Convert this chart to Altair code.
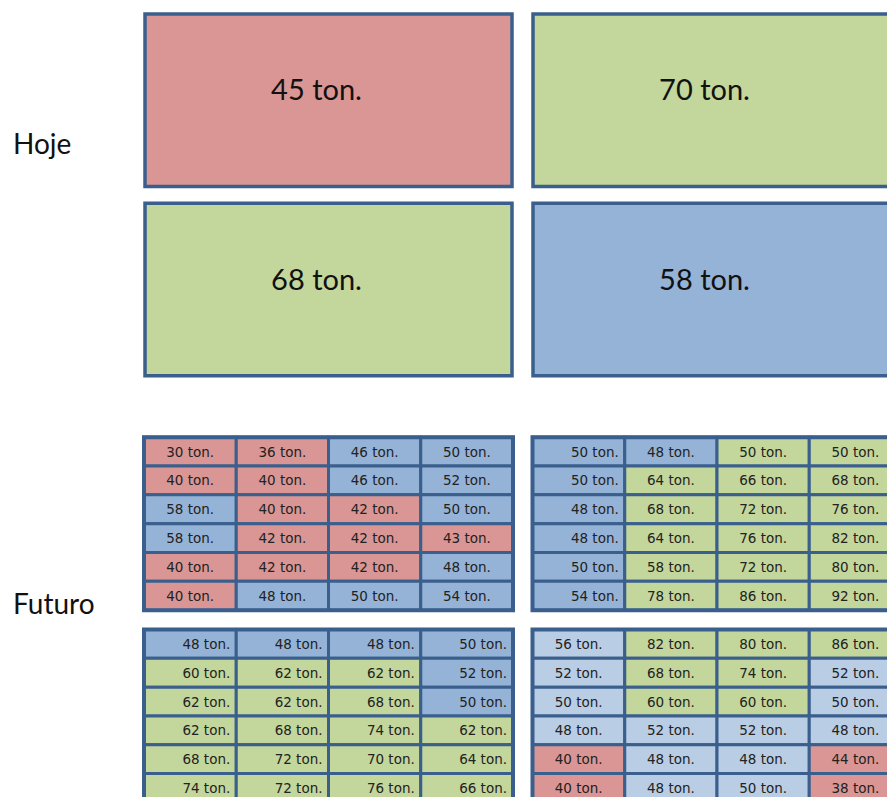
import altair as alt
import pandas as pd

# ---------------- data ----------------
row_labels = ["Hoje", "Futuro"]

hoje_values = [[45, 70], [68, 58]]
hoje_colors = [["r", "g"], ["g", "b"]]

tl_values = [[30, 36, 46, 50], [40, 40, 46, 52], [58, 40, 42, 50],
             [58, 42, 42, 43], [40, 42, 42, 48], [40, 48, 50, 54]]
tl_colors = [["r", "r", "b", "b"], ["r", "r", "b", "b"], ["b", "r", "r", "b"],
             ["b", "r", "r", "r"], ["r", "r", "r", "b"], ["r", "b", "b", "b"]]

tr_values = [[50, 48, 50, 50], [50, 64, 66, 68], [48, 68, 72, 76],
             [48, 64, 76, 82], [50, 58, 72, 80], [54, 78, 86, 92]]
tr_colors = [["b", "b", "g", "g"], ["b", "g", "g", "g"], ["b", "g", "g", "g"],
             ["b", "g", "g", "g"], ["b", "g", "g", "g"], ["b", "g", "g", "g"]]

bl_values = [[48, 48, 48, 50], [60, 62, 62, 52], [62, 62, 68, 50],
             [62, 68, 74, 62], [68, 72, 70, 64], [74, 72, 76, 66]]
bl_colors = [["b", "b", "b", "b"], ["g", "g", "g", "b"], ["g", "g", "g", "b"],
             ["g", "g", "g", "g"], ["g", "g", "g", "g"], ["g", "g", "g", "g"]]

br_values = [[56, 82, 80, 86], [52, 68, 74, 52], [50, 60, 60, 50],
             [48, 52, 52, 48], [40, 48, 48, 44], [40, 48, 50, 38]]
br_colors = [["l", "g", "g", "g"], ["l", "g", "g", "l"], ["l", "g", "g", "l"],
             ["l", "l", "l", "l"], ["r", "l", "l", "r"], ["r", "l", "l", "r"]]

# ---------------- styles / layout ----------------
COLOR_DOMAIN = ["r", "g", "b", "l"]
COLOR_RANGE = ["#D99694", "#C3D69B", "#95B3D7", "#B9CDE5"]
BORDER = "#3A5F8D"

BOX_X0, BOX_Y0, BOX_W, BOX_H, BOX_DX, BOX_DY = 145, 14, 367, 174, 388, 191
GRID_X0, GRID_Y0, CELL_W, CELL_H, GRID_DX, GRID_DY = 144, 441, 92.25, 29.08, 388.5, 194

# text alignment per column of each grid (style)
grid_align = {(0, 0): ["center"] * 4,
              (0, 1): ["right", "center", "center", "center"],
              (1, 0): ["right"] * 4,
              (1, 1): ["center"] * 4}

# ---------------- tables ----------------
boxes = []
for qr in range(2):
    for qc in range(2):
        x = BOX_X0 + qc * BOX_DX
        y = BOX_Y0 + qr * BOX_DY
        boxes.append(dict(x=x, x2=x + BOX_W, y=y, y2=y + BOX_H,
                          tx=x + BOX_W / 2 - 12, ty=y + BOX_H / 2 - 9,
                          cat=hoje_colors[qr][qc],
                          label=f"{hoje_values[qr][qc]} ton."))
boxes = pd.DataFrame(boxes)

grids = {(0, 0): (tl_values, tl_colors),
         (0, 1): (tr_values, tr_colors),
         (1, 0): (bl_values, bl_colors),
         (1, 1): (br_values, br_colors)}
cells, frames = [], []
for (qr, qc), (vals, cols) in grids.items():
    gx = GRID_X0 + qc * GRID_DX
    gy = GRID_Y0 + qr * GRID_DY
    frames.append(dict(x=gx, x2=gx + 4 * CELL_W, y=gy, y2=gy + 6 * CELL_H))
    for r in range(6):
        for c in range(4):
            al = grid_align[(qr, qc)][c]
            x = gx + c * CELL_W
            y = gy + r * CELL_H
            tx = x + CELL_W / 2 if al == "center" else x + CELL_W - 6
            cells.append(dict(x=x, x2=x + CELL_W, y=y, y2=y + CELL_H,
                              tx=tx, ty=y + CELL_H / 2 + 1, al=al,
                              cat=cols[r][c], label=f"{vals[r][c]} ton."))
cells = pd.DataFrame(cells)
frames = pd.DataFrame(frames)

labels = pd.DataFrame({"label": row_labels, "tx": [13, 13], "ty": [155, 619]})

# ---------------- chart ----------------
XS = alt.Scale(domain=[8, 887], nice=False, zero=False)
YS = alt.Scale(domain=[8, 804], nice=False, zero=False, reverse=True)
color = alt.Color("cat:N", scale=alt.Scale(domain=COLOR_DOMAIN, range=COLOR_RANGE), legend=None)


def rect_enc():
    return dict(x=alt.X("x:Q", scale=XS, axis=None), x2="x2:Q",
                y=alt.Y("y:Q", scale=YS, axis=None), y2="y2:Q")


def text_enc():
    return dict(x=alt.X("tx:Q", scale=XS, axis=None),
                y=alt.Y("ty:Q", scale=YS, axis=None), text="label:N")


box_layer = alt.Chart(boxes).mark_rect(stroke=BORDER, strokeWidth=3.5, clip=True).encode(
    color=color, **rect_enc())
box_text = alt.Chart(boxes).mark_text(font="Lato", fontSize=29, color="#111111",
                                      baseline="middle", clip=True).encode(**text_enc())

cell_layer = alt.Chart(cells).mark_rect(stroke=BORDER, strokeWidth=3, clip=True).encode(
    color=color, **rect_enc())
frame_layer = alt.Chart(frames).mark_rect(fill=None, fillOpacity=0, stroke=BORDER,
                                          strokeWidth=4, clip=True).encode(**rect_enc())
cell_text_c = alt.Chart(cells).transform_filter(alt.datum.al == "center").mark_text(
    font="DejaVu Sans", fontSize=13.5, color="#222222", align="center",
    baseline="middle", clip=True).encode(**text_enc())
cell_text_r = alt.Chart(cells).transform_filter(alt.datum.al == "right").mark_text(
    font="DejaVu Sans", fontSize=13.5, color="#222222", align="right",
    baseline="middle", clip=True).encode(**text_enc())

side = alt.Chart(labels).mark_text(font="Lato", fontSize=28, color="#111111",
                                   align="left", baseline="alphabetic").encode(**text_enc())

chart = alt.layer(box_layer, box_text, cell_layer, frame_layer, cell_text_c,
                  cell_text_r, side).properties(
    width=879, height=789, padding=0, autosize="none"
).configure_view(stroke=None)

chart.save("out.html", embed_options={"renderer": "svg", "actions": False})
